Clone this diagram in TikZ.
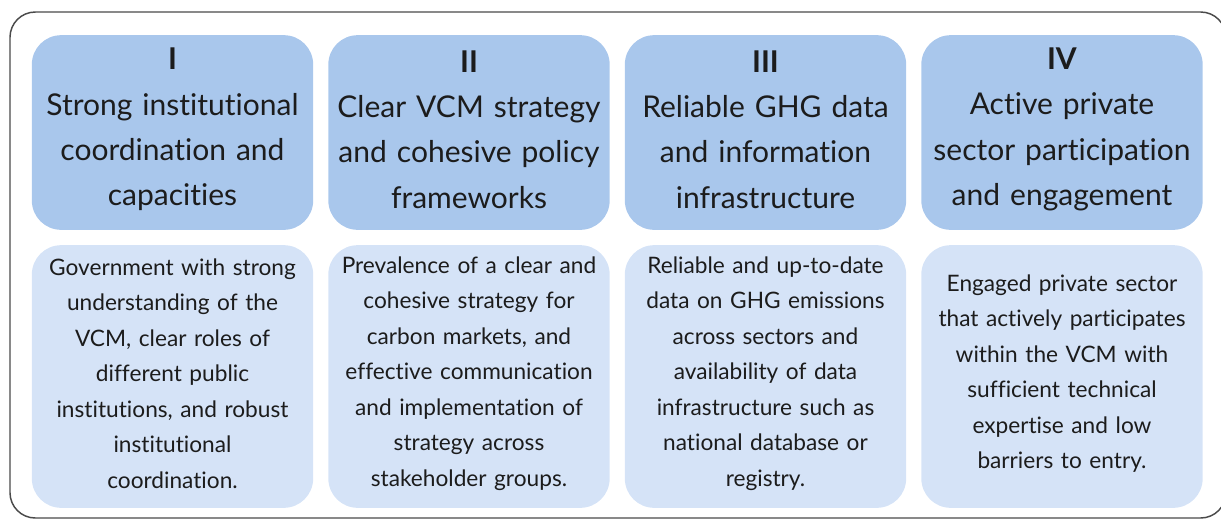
\documentclass[tikz,border=0pt]{standalone}
\usepackage{fontspec}
\setmainfont{Lato}[Ligatures={NoCommon,NoContextual},Contextuals=NoAlternate]
\definecolor{headfill}{HTML}{A9C7EC}
\definecolor{bodyfill}{HTML}{D5E3F7}
\definecolor{ink}{HTML}{1C1C1C}
\definecolor{frame}{HTML}{4A4A4A}
% trailing space that lifts each text block slightly above the box centre
\newcommand{\liftgap}{\par\vspace{4.5pt}}
\begin{document}
\begin{tikzpicture}[x=0.75pt,y=-0.75pt,
  panel/.style={rounded corners=22pt, minimum width=211pt, inner sep=0pt,
    align=center, text=ink, text width=205pt},
  headbox/.style={panel, fill=headfill, minimum height=146pt,
    font=\fontsize{22.5}{34}\selectfont,
    execute at end node=\liftgap},
  bodybox/.style={panel, fill=bodyfill, minimum height=197pt,
    font=\fontsize{17}{26.6}\selectfont,
    execute at end node=\liftgap},
  outerframe/.style={draw=frame, line width=1.1pt, rounded corners=19pt}]
\useasboundingbox (0,0) rectangle (1221,519);
\draw[outerframe] (10,12) rectangle (1226,518);

% header boxes
\node[headbox] (h1) at (172.5,132.5) {\textbf{I}\\Strong institutional\\coordination and\\capacities};
\node[headbox] (h2) at (469,132.5) {\textbf{II}\\Clear VCM strategy\\and cohesive policy\\frameworks};
\node[headbox] (h3) at (765.5,132.5) {\textbf{III}\\Reliable GHG data\\and information\\infrastructure};
\node[headbox] (h4) at (1062,132.5) {\textbf{IV}\\Active private\\sector participation\\and engagement};

% description boxes
\node[bodybox] (b1) at (172.5,376.5) {Government with strong\\understanding of the\\VCM, clear roles of\\different public\\institutions, and robust\\institutional\\coordination.};
\node[bodybox] (b2) at (469,376.5) {Prevalence of a clear and\\cohesive strategy for\\carbon markets, and\\effective communication\\and implementation of\\strategy across\\stakeholder groups.};
\node[bodybox] (b3) at (765.5,376.5) {Reliable and up-to-date\\data on GHG emissions\\across sectors and\\availability of data\\infrastructure such as\\national database or\\registry.};
\node[bodybox] (b4) at (1062,376.5) {Engaged private sector\\that actively participates\\within the VCM with\\sufficient technical\\expertise and low\\barriers to entry.};
\end{tikzpicture}
\end{document}
